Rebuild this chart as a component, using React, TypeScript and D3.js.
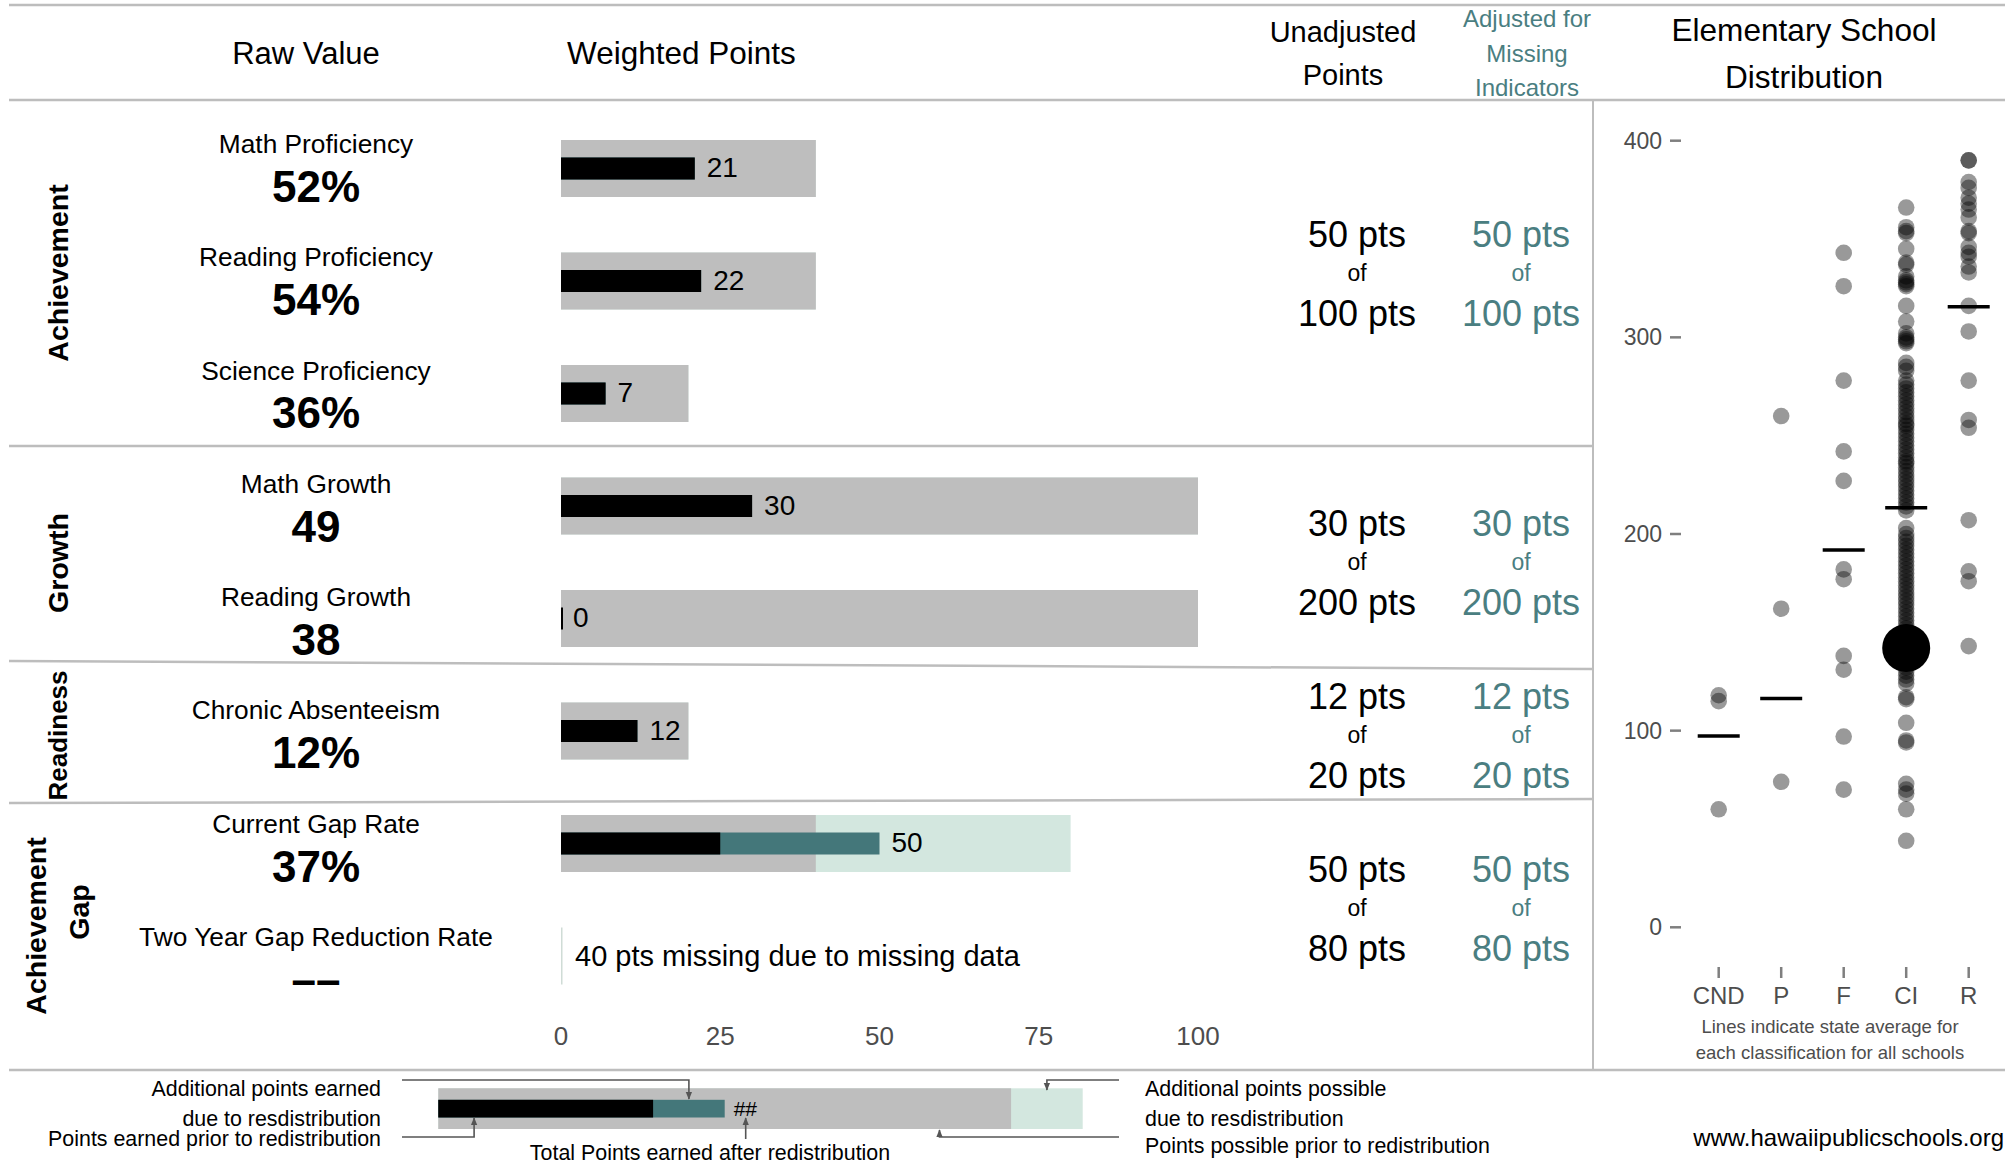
import React, { useLayoutEffect } from "react";
import * as d3 from "d3";

// ---------- DATA ----------
const indicators = [
  "Math Proficiency",
  "Reading Proficiency",
  "Science Proficiency",
  "Math Growth",
  "Reading Growth",
  "Chronic Absenteeism",
  "Current Gap Rate",
  "Two Year Gap Reduction Rate",
];
const rawValues = ["52%", "54%", "36%", "49", "38", "12%", "37%", "––"];
const earnedPrior = [21, 22, 7, 30, 0, 12, 25, null];
const earnedTotal = [21, 22, 7, 30, 0, 12, 50, null];
const possiblePrior = [40, 40, 20, 100, 100, 20, 40, 0];
const possibleTotal = [40, 40, 20, 100, 100, 20, 80, 0];
const missingNote = [null, null, null, null, null, null, null, "40 pts missing due to missing data"];

const sectionNames = [["Achievement"], ["Growth"], ["Readiness"], ["Achievement", "Gap"]];
const sectionEarned = [50, 30, 12, 50];
const sectionPossible = [100, 200, 20, 80];
const sectionAdjEarned = [50, 30, 12, 50];
const sectionAdjPossible = [100, 200, 20, 80];

const axisTicks = [0, 25, 50, 75, 100];

const categories = ["CND", "P", "F", "CI", "R"];
const cndScores = [118, 115, 60];
const pScores = [260, 162, 74];
const fScores = [343, 326, 278, 242, 227, 182, 177, 138, 131, 97, 70];
const ciScores = [
  366, 356, 354, 353, 345, 338, 337, 331, 329, 328, 327, 326, 316, 308, 302, 300, 299, 298, 297,
  287, 285, 283, 278, 276, 274, 272, 270, 268, 266, 264, 262, 260, 258, 256, 255, 253, 251, 249,
  247, 245, 243, 241, 239, 237, 236, 234, 232, 230, 228, 226, 224, 222, 220, 218, 216, 214, 212,
  203, 200, 198, 196, 194, 192, 190, 188, 186, 184, 182, 180, 178, 176, 174, 172, 170, 168, 166,
  164, 162, 160, 158, 156, 154, 152, 150, 135, 132, 130, 128, 126, 124, 117, 116, 104, 95, 94, 73,
  70, 68, 60, 44,
];
const rScores = [390, 390, 379, 376, 371, 368, 365, 361, 354, 353, 346, 343, 341, 336, 333, 316, 303, 278, 258, 254, 207, 181, 176, 143];
const categoryScores = [cndScores, pScores, fScores, ciScores, rScores];
const categoryMeans = [97.3, 116.3, 191.9, 213.4, 315.6];
const schoolCategory = "CI";
const schoolScore = 142;
const scatterTicks = [0, 100, 200, 300, 400];

// legend example values
const legendEarnedPrior = 30;
const legendEarnedExtra = 10;
const legendPossiblePrior = 80;
const legendPossibleExtra = 10;

// ---------- STYLE ----------
const FONT = "'Liberation Sans', Arial, Helvetica, sans-serif";
const GRAY = "#bebebe";
const TEAL = "#44777a";
const TEAL_TEXT = "#4a7e81";
const LIGHT = "#d3e7df";
const RULE = "#bdbdbd";
const AXIS_TXT = "#4d4d4d";

export default function App() {
  useLayoutEffect(() => {
    document.body.style.margin = "0";
    document.body.style.overflow = "hidden";
  }, []);

  const W = 2009;
  const H = 1173;

  const xBar = d3.scaleLinear().domain([0, 100]).range([561, 1198]);
  const yRow = d3.scalePoint().domain(indicators).range([168.5, 956]);
  const yText = d3.scalePoint().domain(indicators).range([177.3, 970.5]);
  const barH = 57;
  const innerH = 22;

  const sectionTop = [100, 446, 670, 800];
  const sectionBottom = [446, 678, 800, 1016];
  const secCenter = sectionTop.map((t, i) => (t + sectionBottom[i]) / 2);
  const sideLabelCenter = [273, 563, 735.5, 919];
  const sideLineShift = [[0], [0], [0], [7, -7]];

  const yS = d3.scaleLinear().domain([0, 400]).range([927.3, 140.7]);
  const xS = d3.scalePoint().domain(categories).range([1718.7, 1968.7]);

  const xLeg = d3
    .scaleLinear()
    .domain([0, legendPossiblePrior + legendPossibleExtra])
    .range([438.3, 1082.7]);

  const legTop = 1088.3;
  const legH = 40.7;
  const legMid = legTop + legH / 2;
  const legInner = 17.7;

  const arrowCol = "#555";

  return (
    <svg
      width={W}
      height={H}
      viewBox={`0 0 ${W} ${H}`}
      style={{ position: "absolute", left: 0, top: 0, display: "block", background: "#fff" }}
      fontFamily={FONT}
    >
      <defs>
        <marker id="arr" viewBox="0 0 10 10" refX="9" refY="5" markerWidth="5" markerHeight="5" orient="auto-start-reverse">
          <path d="M0,1 L10,5 L0,9 z" fill={arrowCol} />
        </marker>
      </defs>
      <rect x={0} y={0} width={W} height={H} fill="#fff" />

      {/* rules */}
      <line x1={9} x2={2005} y1={5} y2={5} stroke={RULE} strokeWidth={2.5} />
      <line x1={9} x2={2005} y1={100} y2={100} stroke={RULE} strokeWidth={2.5} />
      <line x1={9} x2={2005} y1={1070} y2={1070} stroke={RULE} strokeWidth={2.5} />
      <line x1={9} x2={1593} y1={446} y2={446} stroke={RULE} strokeWidth={2.5} />
      <line x1={9} x2={1593} y1={661} y2={669} stroke={RULE} strokeWidth={2.5} />
      <line x1={9} x2={1593} y1={803} y2={799} stroke={RULE} strokeWidth={2.5} />
      <line x1={1593} x2={1593} y1={100} y2={1070} stroke={RULE} strokeWidth={2} />

      {/* headers */}
      <text x={306} y={63.5} fontSize={31} textAnchor="middle">Raw Value</text>
      <text x={567} y={63.5} fontSize={31.5}>Weighted Points</text>
      <text x={1343} y={42} fontSize={29} textAnchor="middle">Unadjusted</text>
      <text x={1343} y={85} fontSize={29} textAnchor="middle">Points</text>
      <text x={1527} y={27} fontSize={24} textAnchor="middle" fill={TEAL_TEXT}>Adjusted for</text>
      <text x={1527} y={61.5} fontSize={24} textAnchor="middle" fill={TEAL_TEXT}>Missing</text>
      <text x={1527} y={96} fontSize={24} textAnchor="middle" fill={TEAL_TEXT}>Indicators</text>
      <text x={1804} y={41} fontSize={31.6} textAnchor="middle">Elementary School</text>
      <text x={1804} y={88} fontSize={31.6} textAnchor="middle">Distribution</text>

      {/* section labels */}
      {sectionNames.map((lines, i) => {
        const fs = lines.length === 1 && lines[0] === "Readiness" ? 26 : 28.5;
        return (
          <g key={"sec" + i} transform={`translate(57.6,${sideLabelCenter[i]}) rotate(-90)`}>
            {lines.map((ln, j) => (
              <text
                key={j}
                x={-sideLineShift[i][j]}
                y={(j - (lines.length - 1) / 2) * 43}
                fontSize={fs}
                fontWeight="bold"
                textAnchor="middle"
                dominantBaseline="central"
              >
                {ln}
              </text>
            ))}
          </g>
        );
      })}

      {/* raw values */}
      {indicators.map((name, i) => (
        <g key={"raw" + i}>
          <text x={316} y={yText(name)! - 24.4} fontSize={26.3} textAnchor="middle">{name}</text>
          <text x={316} y={yText(name)! + 24.4} fontSize={44} fontWeight="bold" textAnchor="middle">{rawValues[i]}</text>
        </g>
      ))}

      {/* bars */}
      {indicators.map((name, i) => {
        const cy = yRow(name)!;
        if (earnedTotal[i] === null) {
          return (
            <g key={"bar" + i}>
              <rect x={xBar(0)} y={cy - barH / 2} width={1.5} height={barH} fill="#cfdcd6" />
              <text x={xBar(0) + 14} y={cy} fontSize={29} dominantBaseline="central">{missingNote[i]}</text>
            </g>
          );
        }
        return (
          <g key={"bar" + i}>
            <rect x={xBar(0)} y={cy - barH / 2} width={xBar(possibleTotal[i]) - xBar(0)} height={barH} fill={LIGHT} />
            <rect x={xBar(0)} y={cy - barH / 2} width={xBar(possiblePrior[i]) - xBar(0)} height={barH} fill={GRAY} />
            <rect x={xBar(0)} y={cy - innerH / 2} width={xBar(earnedTotal[i]!) - xBar(0)} height={innerH} fill={TEAL} />
            <rect
              x={xBar(0)}
              y={cy - innerH / 2}
              width={Math.max(xBar(earnedPrior[i]!) - xBar(0), 2)}
              height={innerH}
              fill="#000"
            />
            <text x={xBar(earnedTotal[i]!) + 12} y={cy - 1} fontSize={28} dominantBaseline="central">
              {earnedTotal[i]}
            </text>
          </g>
        );
      })}

      {/* bar axis */}
      {axisTicks.map((t) => (
        <text key={"ax" + t} x={xBar(t)} y={1045} fontSize={26} textAnchor="middle" fill={AXIS_TXT}>
          {t}
        </text>
      ))}

      {/* points columns */}
      {secCenter.map((c, i) => (
        <g key={"pts" + i}>
          <text x={1357} y={c - 26.5} fontSize={36} textAnchor="middle">{sectionEarned[i]} pts</text>
          <text x={1357} y={c + 8} fontSize={23} textAnchor="middle">of</text>
          <text x={1357} y={c + 53} fontSize={36} textAnchor="middle">{sectionPossible[i]} pts</text>
          <text x={1521} y={c - 26.5} fontSize={36} textAnchor="middle" fill={TEAL_TEXT}>{sectionAdjEarned[i]} pts</text>
          <text x={1521} y={c + 8} fontSize={23} textAnchor="middle" fill={TEAL_TEXT}>of</text>
          <text x={1521} y={c + 53} fontSize={36} textAnchor="middle" fill={TEAL_TEXT}>{sectionAdjPossible[i]} pts</text>
        </g>
      ))}

      {/* scatter axis */}
      {scatterTicks.map((t) => (
        <g key={"st" + t}>
          <text x={1662} y={yS(t)} fontSize={23} textAnchor="end" dominantBaseline="central" fill={AXIS_TXT}>{t}</text>
          <line x1={1670} x2={1681} y1={yS(t)} y2={yS(t)} stroke="#7f7f7f" strokeWidth={2.5} />
        </g>
      ))}
      {categories.map((c) => (
        <g key={"cat" + c}>
          <line x1={xS(c)} x2={xS(c)} y1={967} y2={978} stroke="#7f7f7f" strokeWidth={2.5} />
          <text x={xS(c)} y={1004} fontSize={24} textAnchor="middle" fill={AXIS_TXT}>{c}</text>
        </g>
      ))}
      <text x={1830} y={1033} fontSize={18.5} textAnchor="middle" fill={AXIS_TXT}>Lines indicate state average for</text>
      <text x={1830} y={1059} fontSize={18.5} textAnchor="middle" fill={AXIS_TXT}>each classification for all schools</text>

      {/* scatter points */}
      {categories.map((c, i) =>
        categoryScores[i].map((v, j) => (
          <circle key={c + j} cx={xS(c)} cy={yS(v)} r={8.3} fill="#000" fillOpacity={0.4} />
        ))
      )}
      {categories.map((c, i) => (
        <line
          key={"mean" + c}
          x1={xS(c)! - 21}
          x2={xS(c)! + 21}
          y1={yS(categoryMeans[i])}
          y2={yS(categoryMeans[i])}
          stroke="#000"
          strokeWidth={3.5}
        />
      ))}
      <circle cx={xS(schoolCategory)} cy={yS(schoolScore)} r={24} fill="#000" />

      {/* legend */}
      <rect x={xLeg(0)} y={legTop} width={xLeg(legendPossiblePrior + legendPossibleExtra) - xLeg(0)} height={legH} fill={LIGHT} />
      <rect x={xLeg(0)} y={legTop} width={xLeg(legendPossiblePrior) - xLeg(0)} height={legH} fill={GRAY} />
      <rect x={xLeg(0)} y={legMid - legInner / 2} width={xLeg(legendEarnedPrior + legendEarnedExtra) - xLeg(0)} height={legInner} fill={TEAL} />
      <rect x={xLeg(0)} y={legMid - legInner / 2} width={xLeg(legendEarnedPrior) - xLeg(0)} height={legInner} fill="#000" />
      <text x={xLeg(legendEarnedPrior + legendEarnedExtra) + 9} y={legMid} fontSize={21} dominantBaseline="central">##</text>

      <polyline
        points={`402,1080 ${xLeg(legendEarnedPrior + legendEarnedExtra / 2)},1080 ${xLeg(legendEarnedPrior + legendEarnedExtra / 2)},1099`}
        fill="none" stroke={arrowCol} strokeWidth={1.6} markerEnd="url(#arr)"
      />
      <polyline
        points={`402,1137 ${xLeg(5)},1137 ${xLeg(5)},1118`}
        fill="none" stroke={arrowCol} strokeWidth={1.6} markerEnd="url(#arr)"
      />
      <polyline
        points={`${xLeg(legendEarnedPrior + legendEarnedExtra) + 21},1139 ${xLeg(legendEarnedPrior + legendEarnedExtra) + 21},1118`}
        fill="none" stroke={arrowCol} strokeWidth={1.6} markerEnd="url(#arr)"
      />
      <polyline
        points={`1119,1080 ${xLeg(legendPossiblePrior + legendPossibleExtra / 2)},1080 ${xLeg(legendPossiblePrior + legendPossibleExtra / 2)},1090`}
        fill="none" stroke={arrowCol} strokeWidth={1.6} markerEnd="url(#arr)"
      />
      <polyline
        points={`1119,1137 ${xLeg(70)},1137 ${xLeg(70)},1130`}
        fill="none" stroke={arrowCol} strokeWidth={1.6} markerEnd="url(#arr)"
      />

      <text x={381} y={1096} fontSize={21.4} textAnchor="end">Additional points earned</text>
      <text x={381} y={1125.5} fontSize={21.4} textAnchor="end">due to resdistribution</text>
      <text x={381} y={1146} fontSize={21.4} textAnchor="end">Points earned prior to redistribution</text>
      <text x={710} y={1160} fontSize={21.4} textAnchor="middle">Total Points earned after redistribution</text>
      <text x={1145} y={1096} fontSize={21.4}>Additional points possible</text>
      <text x={1145} y={1125.5} fontSize={21.4}>due to resdistribution</text>
      <text x={1145} y={1153} fontSize={21.4}>Points possible prior to redistribution</text>
      <text x={2004} y={1146} fontSize={24} textAnchor="end">www.hawaiipublicschools.org</text>
    </svg>
  );
}
